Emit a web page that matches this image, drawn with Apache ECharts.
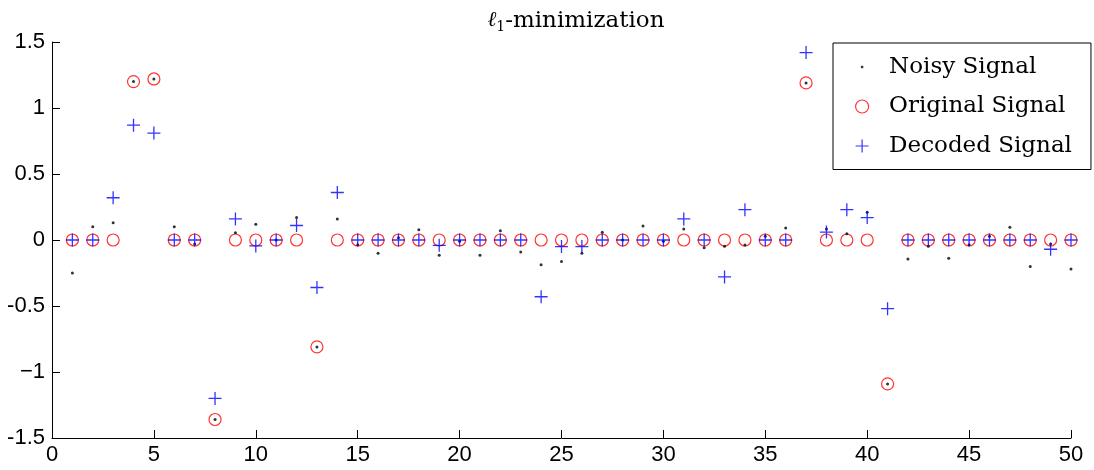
<!DOCTYPE html>
<html>
<head>
<meta charset="utf-8">
<script src="https://cdn.jsdelivr.net/npm/echarts@6/dist/echarts.min.js"></script>
<style>html,body{margin:0;padding:0;background:#fff}#c{width:1094px;height:470px}</style>
</head>
<body>
<div id="c"></div>
<script>
const xs = [1,2,3,4,5,6,7,8,9,10,11,12,13,14,15,16,17,18,19,20,21,22,23,24,25,26,27,28,29,30,31,32,33,34,35,36,37,38,39,40,41,42,43,44,45,46,47,48,49,50];
const noisy = [-0.25,0.10,0.13,1.20,1.22,0.10,-0.03,-1.36,0.055,0.12, 0.0,0.17,-0.81,0.16,-0.036,-0.10,0.017,0.078,-0.116,-0.01, -0.116,0.07,-0.091,-0.187,-0.162,-0.10,0.058,0.0,0.106,-0.01, 0.083,-0.058,-0.048,-0.038,0.028,0.091,1.19,0.083,0.048,0.21, -1.09,-0.144,-0.048,-0.139,-0.036,0.028,0.096,-0.20,-0.03,-0.22];
const original = [0,0,0,1.20,1.22,0,0,-1.36,0,0, 0,0,-0.81,0,0,0,0,0,0,0, 0,0,0,0,0,0,0,0,0,0, 0,0,0,0,0,0,1.19,0,0,0, -1.09,0,0,0,0,0,0,0,0,0];
const decoded = [0,0,0.32,0.87,0.81,0,0,-1.20,0.16,-0.045, 0,0.11,-0.36,0.36,0,0,0,0,-0.04,0, 0,0,0,-0.43,-0.05,-0.05,0,0,0,0, 0.16,0,-0.28,0.23,0,0,1.42,0.06,0.23,0.17, -0.52,0,0,0,0,0,0,0,-0.07,0];
const seriesNames = ['Noisy Signal','Original Signal','Decoded Signal'];
const yTickValues = [-1.5,-1,-0.5,0,0.5,1,1.5];
const yTickLabels = ['-1.5','\u22121','-0.5','0','0.5','1','1.5'];
const xTickValues = [0,5,10,15,20,25,30,35,40,45,50];
const xTickLabels = ['0','5','10','15','20','25','30','35','40','45','50'];

const pair = (ys) => xs.map((x, i) => [x, ys[i]]);
const plusPath = 'path://M0,-7L0,7M-7,0L7,0';
const dotLegend = 'path://M-6.5,-6.5M6.5,6.5M-1.2,-1.2L1.2,-1.2L1.2,1.2L-1.2,1.2Z';

const chart = echarts.init(document.getElementById('c'), null, {renderer: 'canvas'});
chart.setOption({
  animation: false,
  backgroundColor: '#fff',
  title: {
    text: '{a|\u2113}{b|1}{c|-minimization}',
    left: 571,
    textAlign: 'center',
    top: 3,
    textStyle: {
      fontWeight: 'normal',
      rich: {
        a: {fontFamily: 'DejaVu Serif', fontSize: 21, color: '#000', lineHeight: 26, fontWeight: 'normal', fontStyle: 'italic'},
        b: {fontFamily: 'DejaVu Serif', fontSize: 14, color: '#000', lineHeight: 26, fontWeight: 'normal', verticalAlign: 'bottom'},
        c: {fontFamily: 'DejaVu Serif', fontSize: 23, color: '#000', lineHeight: 26, fontWeight: 'normal'}
      }
    }
  },
  grid: {left: 52, right: 23, top: 42, bottom: 32, containLabel: false},
  legend: {
    orient: 'vertical',
    left: 833,
    top: 43,
    itemWidth: 44,
    itemHeight: 13,
    itemGap: 16.5,
    padding: [12.5, 19, 12, 22],
    backgroundColor: '#fff',
    borderColor: '#000',
    borderWidth: 1,
    borderRadius: 0,
    selectedMode: false,
    itemStyle: {borderWidth: 1.2},
    textStyle: {fontFamily: 'DejaVu Serif', fontSize: 23, color: '#000'},
    data: [
      {name: seriesNames[0], icon: dotLegend, itemStyle: {borderWidth: 0, color: '#000'}},
      {name: seriesNames[1]},
      {name: seriesNames[2]}
    ]
  },
  xAxis: {
    type: 'value', min: 0, max: 50, interval: 5,
    axisLine: {show: true, onZero: false, lineStyle: {color: '#000', width: 1}},
    axisTick: {show: true, inside: true, length: 8, lineStyle: {color: '#000'}},
    splitLine: {show: false},
    axisLabel: {
      margin: 6, color: '#000', fontFamily: 'Liberation Sans', fontSize: 22,
      formatter: (v) => { const i = xTickValues.indexOf(v); return i >= 0 ? xTickLabels[i] : ''; }
    }
  },
  yAxis: {
    type: 'value', min: -1.5, max: 1.5, interval: 0.5,
    axisLine: {show: true, onZero: false, lineStyle: {color: '#000', width: 1}},
    axisTick: {show: true, inside: true, length: 8, lineStyle: {color: '#000'}},
    splitLine: {show: false},
    axisLabel: {
      margin: 7, color: '#000', fontFamily: 'Liberation Sans', fontSize: 22,
      formatter: (v) => { const i = yTickValues.findIndex(t => Math.abs(t - v) < 1e-9); return i >= 0 ? yTickLabels[i] : ''; }
    }
  },
  series: [
    {
      name: seriesNames[0], type: 'scatter', data: pair(noisy),
      symbol: 'circle', symbolSize: 3, z: 3,
      itemStyle: {color: '#000'}, silent: true
    },
    {
      name: seriesNames[1], type: 'scatter', data: pair(original),
      symbol: 'circle', symbolSize: 12, z: 2,
      itemStyle: {color: 'transparent', borderColor: '#ff0000', borderWidth: 1.2}, silent: true
    },
    {
      name: seriesNames[2], type: 'scatter', data: pair(decoded),
      symbol: plusPath, symbolSize: 13, z: 4,
      itemStyle: {color: '#0000ff', borderColor: '#0000ff', borderWidth: 1.3}, silent: true
    }
  ]
});
</script>
</body>
</html>
